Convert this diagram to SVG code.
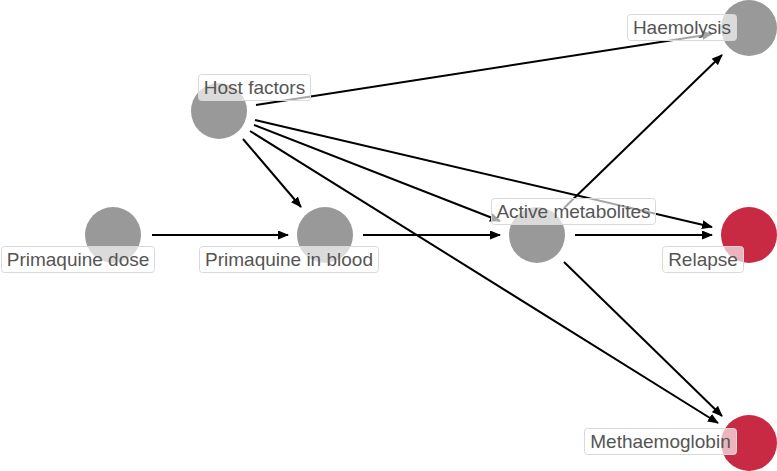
<svg xmlns="http://www.w3.org/2000/svg" width="777" height="471" viewBox="0 0 777 471">
<style>
.edge{stroke:#000;stroke-width:2;fill:none;marker-end:url(#ah)}
.n{fill:#999}
.r{fill:#C92A43}
.lb{fill:#fff;fill-opacity:0.65;stroke:#d9d9d9;stroke-width:1}
.t{font-family:"Liberation Sans",Arial,sans-serif;font-size:19px;fill:#555;text-anchor:middle}
</style>
<defs>
<marker id="ah" markerWidth="11" markerHeight="9" refX="10" refY="4.5" orient="auto" markerUnits="userSpaceOnUse">
<path d="M0,0 L11,4.5 L0,9 z" fill="#000"/>
</marker>
</defs>
<rect width="777" height="471" fill="#fff"/>
<g id="edges">
<line class="edge" x1="152" y1="235" x2="288" y2="235"/>
<line class="edge" x1="363" y1="235" x2="500" y2="235"/>
<line class="edge" x1="575" y1="235" x2="712" y2="235"/>
<line class="edge" x1="564" y1="208" x2="722" y2="55"/>
<line class="edge" x1="564" y1="262" x2="722" y2="416"/>
<line class="edge" x1="256" y1="105" x2="712" y2="34"/>
<line class="edge" x1="243" y1="139" x2="301" y2="207"/>
<line class="edge" x1="254" y1="125" x2="500" y2="221"/>
<line class="edge" x1="255" y1="120" x2="712" y2="227"/>
<line class="edge" x1="250" y1="131" x2="718" y2="423"/>
</g>
<g id="host_factors">
<circle class="n" cx="219" cy="111" r="28"/>
<rect class="lb" x="198.5" y="74.5" width="112" height="26" rx="3"/>
<text class="t" x="254.5" y="94">Host factors</text>
</g>
<g id="primaquine_dose">
<circle class="n" cx="113" cy="235" r="28"/>
<rect class="lb" x="1.5" y="246.5" width="153" height="26" rx="3"/>
<text class="t" x="78" y="266">Primaquine dose</text>
</g>
<g id="primaquine_in_blood">
<circle class="n" cx="325" cy="235" r="28"/>
<rect class="lb" x="199.5" y="246.5" width="179" height="26" rx="3"/>
<text class="t" x="289" y="266">Primaquine in blood</text>
</g>
<g id="active_metabolites">
<circle class="n" cx="537" cy="235" r="28"/>
<rect class="lb" x="491.5" y="198.5" width="164" height="26" rx="3"/>
<text class="t" x="573.5" y="218">Active metabolites</text>
</g>
<g id="haemolysis">
<circle class="n" cx="749" cy="28" r="28"/>
<rect class="lb" x="627.5" y="14.5" width="109" height="26" rx="3"/>
<text class="t" x="682" y="34">Haemolysis</text>
</g>
<g id="relapse">
<circle class="r" cx="749" cy="235" r="28"/>
<rect class="lb" x="662.5" y="246.5" width="81" height="26" rx="3"/>
<text class="t" x="703" y="266">Relapse</text>
</g>
<g id="methaemoglobin">
<circle class="r" cx="749" cy="443" r="28"/>
<rect class="lb" x="584.5" y="428.5" width="152" height="26" rx="3"/>
<text class="t" x="660.5" y="448">Methaemoglobin</text>
</g>
</svg>
